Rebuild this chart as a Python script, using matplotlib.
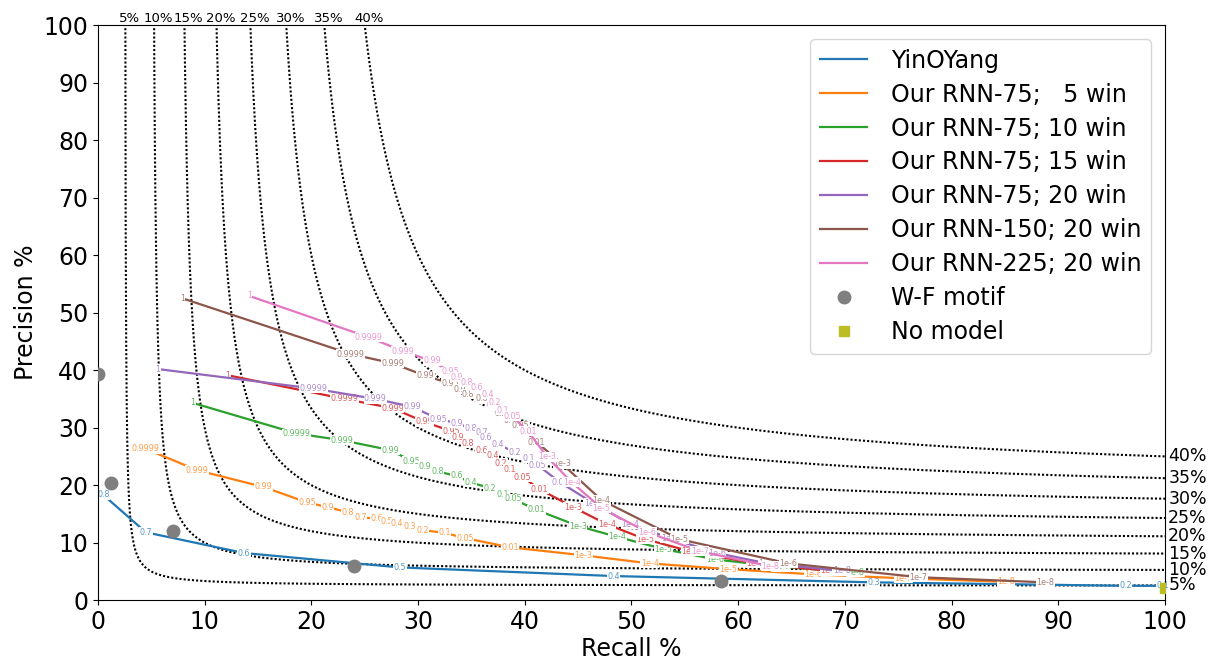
import numpy as np
import matplotlib
matplotlib.use("Agg")
import matplotlib.pyplot as plt

# ------------------------------------------------------------------ #
# Data (recall %, precision %, threshold label)
# ------------------------------------------------------------------ #
yin_rec = [0.5, 4.5, 13.7, 28.3, 48.3, 72.7, 96.3, 99.8]
yin_prec = [18.3, 11.8, 8.2, 5.7, 4.2, 3.1, 2.5, 2.5]
yin_thr = ["0.8", "0.7", "0.6", "0.5", "0.4", "0.3", "0.2", "0.1"]

w5_rec = [4.5, 9.3, 15.5, 19.6, 21.5, 23.4, 24.6, 26.1, 27.1, 28.0, 29.2, 30.4,
          32.5, 34.4, 38.6, 45.5, 51.7, 59.1, 67.0, 75.5, 85.1]
w5_prec = [26.3, 22.6, 19.7, 17.0, 16.2, 15.3, 14.4, 14.2, 13.7, 13.4, 12.9, 12.2,
           11.7, 10.8, 9.2, 7.8, 6.4, 5.4, 4.5, 3.8, 3.2]
w5_thr = ["0.9999", "0.999", "0.99", "0.95", "0.9", "0.8", "0.7", "0.6", "0.5", "0.4",
          "0.3", "0.2", "0.1", "0.05", "0.01", "1e-3", "1e-4", "1e-5", "1e-6", "1e-7", "1e-8"]

w10_rec = [8.9, 18.6, 22.9, 27.4, 29.4, 30.6, 31.8, 33.6, 34.9, 36.7, 37.9, 38.9,
           41.1, 45.0, 48.7, 53.0, 57.8, 64.0, 71.0]
w10_prec = [34.3, 29.0, 27.8, 26.1, 24.2, 23.3, 22.4, 21.6, 20.5, 19.5, 18.4, 17.6,
            15.7, 12.9, 11.0, 8.9, 7.1, 5.8, 4.9]
w10_thr = ["1", "0.9999", "0.999", "0.99", "0.95", "0.9", "0.8", "0.6", "0.4", "0.2",
           "0.1", "0.05", "0.01", "1e-3", "1e-4", "1e-5", "1e-6", "1e-7", "1e-8"]

w15_rec = [12.2, 23.1, 27.6, 30.6, 33.1, 33.7, 34.7, 36.0, 37.0, 37.8, 38.6, 39.8,
           41.4, 44.5, 47.7, 51.3, 55.5, 61.6, 68.5]
w15_prec = [39.1, 35.0, 33.4, 31.0, 29.4, 28.3, 27.3, 26.1, 25.2, 23.8, 22.8, 21.4,
            19.3, 16.2, 13.2, 10.6, 8.5, 6.4, 5.1]
w15_thr = ["1", "0.9999", "0.999", "0.99", "0.95", "0.9", "0.8", "0.6", "0.4", "0.2",
           "0.1", "0.05", "0.01", "1e-3", "1e-4", "1e-5", "1e-6", "1e-7", "1e-8"]

w20_rec = [5.6, 20.2, 26.0, 29.5, 31.9, 33.6, 34.9, 36.0, 36.3, 37.5, 39.1, 40.4,
           41.2, 43.3, 46.4, 49.9, 53.6, 58.0, 62.7, 69.7]
w20_prec = [40.2, 36.8, 35.0, 33.6, 31.5, 30.8, 29.9, 29.2, 28.3, 27.1, 25.7, 24.7,
            23.5, 20.5, 16.9, 13.2, 10.8, 8.2, 6.4, 5.1]
w20_thr = ["1", "0.9999", "0.999", "0.99", "0.95", "0.9", "0.8", "0.7", "0.6", "0.4",
           "0.2", "0.1", "0.05", "0.01", "1e-3", "1e-4", "1e-5", "1e-6", "1e-7", "1e-8"]

r150_rec = [7.9, 23.7, 27.6, 30.7, 33.0, 33.9, 34.7, 36.0, 37.0, 37.8, 38.6, 39.6,
            41.1, 43.5, 47.2, 54.5, 64.7, 76.9, 88.8]
r150_prec = [52.5, 42.8, 41.2, 39.0, 37.7, 36.7, 35.8, 35.0, 33.8, 32.5, 31.3, 30.3,
             27.5, 23.7, 17.4, 10.6, 6.4, 4.0, 3.1]
r150_thr = ["1", "0.9999", "0.999", "0.99", "0.95", "0.9", "0.8", "0.6", "0.4", "0.2",
            "0.1", "0.05", "0.01", "1e-3", "1e-4", "1e-5", "1e-6", "1e-7", "1e-8"]

r225_rec = [14.2, 25.4, 28.6, 31.3, 33.0, 33.6, 34.6, 35.5, 36.5, 37.2, 37.9, 38.8,
            40.3, 42.1, 44.4, 47.2, 51.5, 56.4, 63.0]
r225_prec = [52.9, 45.7, 43.3, 41.6, 39.7, 38.8, 37.9, 36.9, 35.8, 34.3, 33.0, 32.0,
             29.4, 24.9, 20.5, 16.0, 11.8, 8.5, 5.9]
r225_thr = ["1", "0.9999", "0.999", "0.99", "0.95", "0.9", "0.8", "0.6", "0.4", "0.2",
            "0.1", "0.05", "0.01", "1e-3", "1e-4", "1e-5", "1e-6", "1e-7", "1e-8"]

wf_rec = [0.0, 1.2, 7.0, 24.0, 58.4]
wf_prec = [39.3, 20.3, 12.0, 5.9, 3.4]

nomodel_rec = [100.0]
nomodel_prec = [2.2]

f_levels = [5, 10, 15, 20, 25, 30, 35, 40]

series = [
    ("YinOYang", yin_rec, yin_prec, yin_thr, "tab:blue"),
    ("Our RNN-75;   5 win", w5_rec, w5_prec, w5_thr, "tab:orange"),
    ("Our RNN-75; 10 win", w10_rec, w10_prec, w10_thr, "tab:green"),
    ("Our RNN-75; 15 win", w15_rec, w15_prec, w15_thr, "tab:red"),
    ("Our RNN-75; 20 win", w20_rec, w20_prec, w20_thr, "tab:purple"),
    ("Our RNN-150; 20 win", r150_rec, r150_prec, r150_thr, "tab:brown"),
    ("Our RNN-225; 20 win", r225_rec, r225_prec, r225_thr, "tab:pink"),
]

fig = plt.figure(figsize=(12.09, 6.61), dpi=100)
ax = fig.add_axes([0.081, 0.092, 0.8826, 0.87])

# ------------------------------------------------------------------ #
# F-score iso-curves
# ------------------------------------------------------------------ #
for f in f_levels:
    r = np.linspace(f / 2 + 1e-3, 100, 2000)
    p = f * r / (2 * r - f)
    ax.plot(r, p, color="black", linestyle=(0, (1, 1.0)), linewidth=1.5, zorder=1)
    r_top = f * 100 / (200 - f)
    ax.text(r_top + 0.4, 100.0, f"{f}%", ha="center", va="bottom", fontsize=9.5,
            clip_on=False)
    p_right = f * 100 / (200 - f)
    ax.text(100.3, p_right, f"{f}%", ha="left", va="center", fontsize=12.5,
            clip_on=False)

# ------------------------------------------------------------------ #
# Precision / recall curves with threshold labels
# ------------------------------------------------------------------ #
for z, (name, rec, prec, thr, col) in enumerate(series):
    ax.plot(rec, prec, color=col, linewidth=1.6, label=name, zorder=2 + z)
    for xr, yp, t in zip(rec, prec, thr):
        ax.text(xr, yp, t, color=col, alpha=0.75, fontsize=5.8, ha="center",
                va="center", zorder=2.5 + z,
                bbox=dict(boxstyle="square,pad=0.05", fc="white", ec="none"))

ax.plot(wf_rec, wf_prec, linestyle="none", marker="o", markersize=9,
        color="tab:gray", label="W-F motif", zorder=20)
ax.plot(nomodel_rec, nomodel_prec, linestyle="none", marker="s", markersize=7,
        color="tab:olive", label="No model", zorder=20)

ax.set_xlim(0, 100)
ax.set_ylim(0, 100)
ax.set_xticks(np.arange(0, 101, 10))
ax.set_yticks(np.arange(0, 101, 10))
ax.tick_params(labelsize=17)
ax.set_xlabel("Recall %", fontsize=17, labelpad=2)
ax.set_ylabel("Precision %", fontsize=17)

ax.legend(loc="upper right", fontsize=17, labelspacing=0.42, borderaxespad=0.6,
          handletextpad=1.0)

fig.savefig("out.png", dpi=100)
